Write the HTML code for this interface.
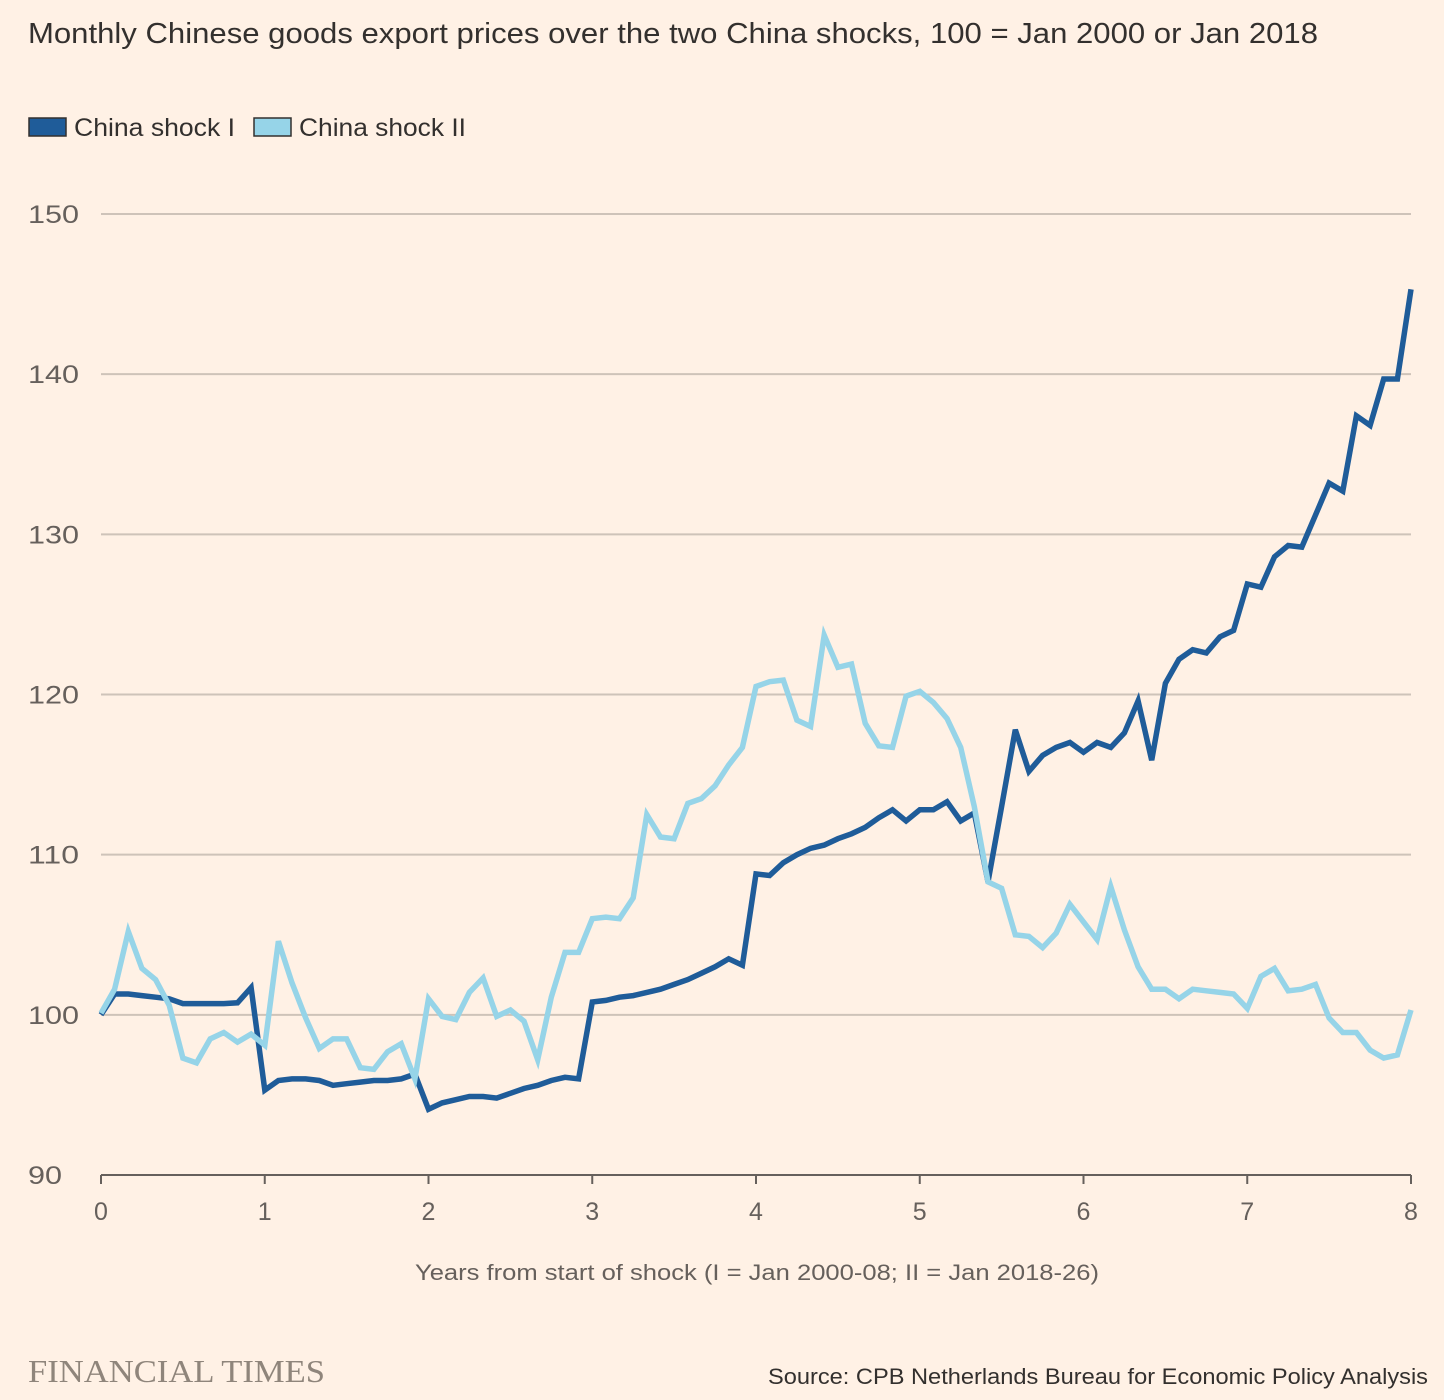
<!DOCTYPE html>
<html><head><meta charset="utf-8"><style>
body{margin:0;background:#fff1e5;}
svg{display:block;font-family:"Liberation Sans",sans-serif;}
</style></head><body>
<svg id="chart" width="1444" height="1400" viewBox="0 0 1444 1400">
<rect width="1444" height="1400" fill="#fff1e5"/>
<text x="28" y="43" font-size="29" fill="#33302e" textLength="1290" lengthAdjust="spacingAndGlyphs">Monthly Chinese goods export prices over the two China shocks, 100 = Jan 2000 or Jan 2018</text>
<g>
<rect x="29" y="118" width="37" height="18" fill="#1f5c99" stroke="#33302e" stroke-width="1.5"/>
<text x="74" y="136" font-size="25" fill="#33302e" textLength="161" lengthAdjust="spacingAndGlyphs">China shock I</text>
<rect x="254" y="118" width="37" height="18" fill="#96d4e8" stroke="#33302e" stroke-width="1.5"/>
<text x="299" y="136" font-size="25" fill="#33302e" textLength="167" lengthAdjust="spacingAndGlyphs">China shock II</text>
</g>
<g id="grid"></g>
<g id="yt"></g>
<g id="xt"></g>
<g id="lines"></g>
<text x="415" y="1280" font-size="22" fill="#66605c" textLength="684" lengthAdjust="spacingAndGlyphs">Years from start of shock (I = Jan 2000-08; II = Jan 2018-26)</text>
<text x="28" y="1382" font-size="32" fill="#8f857b" font-family="Liberation Serif, serif" textLength="297" lengthAdjust="spacingAndGlyphs">FINANCIAL TIMES</text>
<text x="768" y="1384" font-size="22" fill="#33302e" textLength="660" lengthAdjust="spacingAndGlyphs">Source: CPB Netherlands Bureau for Economic Policy Analysis</text>
</svg>
<script>
const yTicks=[90,100,110,120,130,140,150];
const xTicks=[0,1,2,3,4,5,6,7,8];
const shock1=[100,101.3,101.3,101.2,101.1,101.0,100.7,100.7,100.7,100.7,100.75,101.7,95.3,95.9,96.0,96.0,95.9,95.6,95.7,95.8,95.9,95.9,96.0,96.3,94.1,94.5,94.7,94.9,94.9,94.8,95.1,95.4,95.6,95.9,96.1,96.0,100.8,100.9,101.1,101.2,101.4,101.6,101.9,102.2,102.6,103.0,103.5,103.1,108.8,108.7,109.5,110.0,110.4,110.6,111.0,111.3,111.7,112.3,112.8,112.1,112.8,112.8,113.3,112.1,112.6,108.3,113.0,117.8,115.2,116.2,116.7,117.0,116.4,117.0,116.7,117.6,119.6,115.9,120.7,122.2,122.8,122.6,123.6,124.0,126.9,126.7,128.6,129.3,129.2,131.2,133.2,132.7,137.4,136.8,139.7,139.7,145.3];
const shock2=[100.1,101.6,105.2,102.9,102.2,100.6,97.3,97.0,98.5,98.9,98.3,98.8,98.1,104.6,102.0,99.8,97.9,98.5,98.5,96.7,96.6,97.7,98.2,96.0,101.0,99.9,99.7,101.4,102.3,99.9,100.3,99.6,97.2,101.1,103.9,103.9,106.0,106.1,106.0,107.3,112.5,111.1,111.0,113.2,113.5,114.3,115.6,116.7,120.5,120.8,120.9,118.4,118.0,123.7,121.7,121.9,118.2,116.8,116.7,119.9,120.2,119.5,118.5,116.7,113.0,108.3,107.9,105.0,104.9,104.2,105.1,106.9,105.8,104.7,108.0,105.3,103.0,101.6,101.6,101.0,101.6,101.5,101.4,101.3,100.4,102.4,102.9,101.5,101.6,101.9,99.8,98.9,98.9,97.8,97.3,97.5,100.3];
const NS="http://www.w3.org/2000/svg";
const X0=101,X1=1411,Y0=1175,Y1=214;
function xs(yr){return X0+(yr-0)/8*(X1-X0);}
function ys(v){return Y0-(v-90)/60*(Y0-Y1);}
const grid=document.getElementById('grid'),yt=document.getElementById('yt'),xt=document.getElementById('xt'),lines=document.getElementById('lines');
yTicks.forEach(t=>{
  if(t>90){const l=document.createElementNS(NS,'line');
  
  
  l.setAttribute('x1',X0);l.setAttribute('x2',X1);l.setAttribute('y1',ys(t));l.setAttribute('y2',ys(t));
  l.setAttribute('stroke','#cec3b9');l.setAttribute('stroke-width','2');grid.appendChild(l);}
  const tx=document.createElementNS(NS,'text');
  
  
  tx.setAttribute('x',28);tx.setAttribute('y',ys(t)+9);tx.setAttribute('font-size','25');tx.setAttribute('fill','#66605c');
  tx.setAttribute('textLength',t>=100?51:34);tx.setAttribute('lengthAdjust','spacingAndGlyphs');
  tx.textContent=t;yt.appendChild(tx);
});
const ax=document.createElementNS(NS,'line');


ax.setAttribute('x1',X0);ax.setAttribute('x2',X1);ax.setAttribute('y1',Y0);ax.setAttribute('y2',Y0);
ax.setAttribute('stroke','#66605c');ax.setAttribute('stroke-width','2');xt.appendChild(ax);
xTicks.forEach(t=>{
  const l=document.createElementNS(NS,'line');
  
  
  l.setAttribute('x1',xs(t));l.setAttribute('x2',xs(t));l.setAttribute('y1',Y0);l.setAttribute('y2',Y0+9);
  l.setAttribute('stroke','#66605c');l.setAttribute('stroke-width','2');xt.appendChild(l);
  const tx=document.createElementNS(NS,'text');
  
  
  tx.setAttribute('x',xs(t));tx.setAttribute('y',Y0+45);tx.setAttribute('font-size','25');tx.setAttribute('fill','#66605c');tx.setAttribute('text-anchor','middle');
  tx.textContent=t;xt.appendChild(tx);
});
function draw(arr,color,name){
  const p=document.createElementNS(NS,'polyline');
  
  
  p.setAttribute('points',arr.map((v,i)=>xs(i/12).toFixed(1)+','+ys(v).toFixed(1)).join(' '));
  p.setAttribute('fill','none');p.setAttribute('stroke',color);p.setAttribute('stroke-width','5.5');p.setAttribute('stroke-linejoin','miter');
  lines.appendChild(p);
}
draw(shock1,'#1f5c99','line-china-shock-1');
draw(shock2,'#96d4e8','line-china-shock-2');
</script>
</body></html>
